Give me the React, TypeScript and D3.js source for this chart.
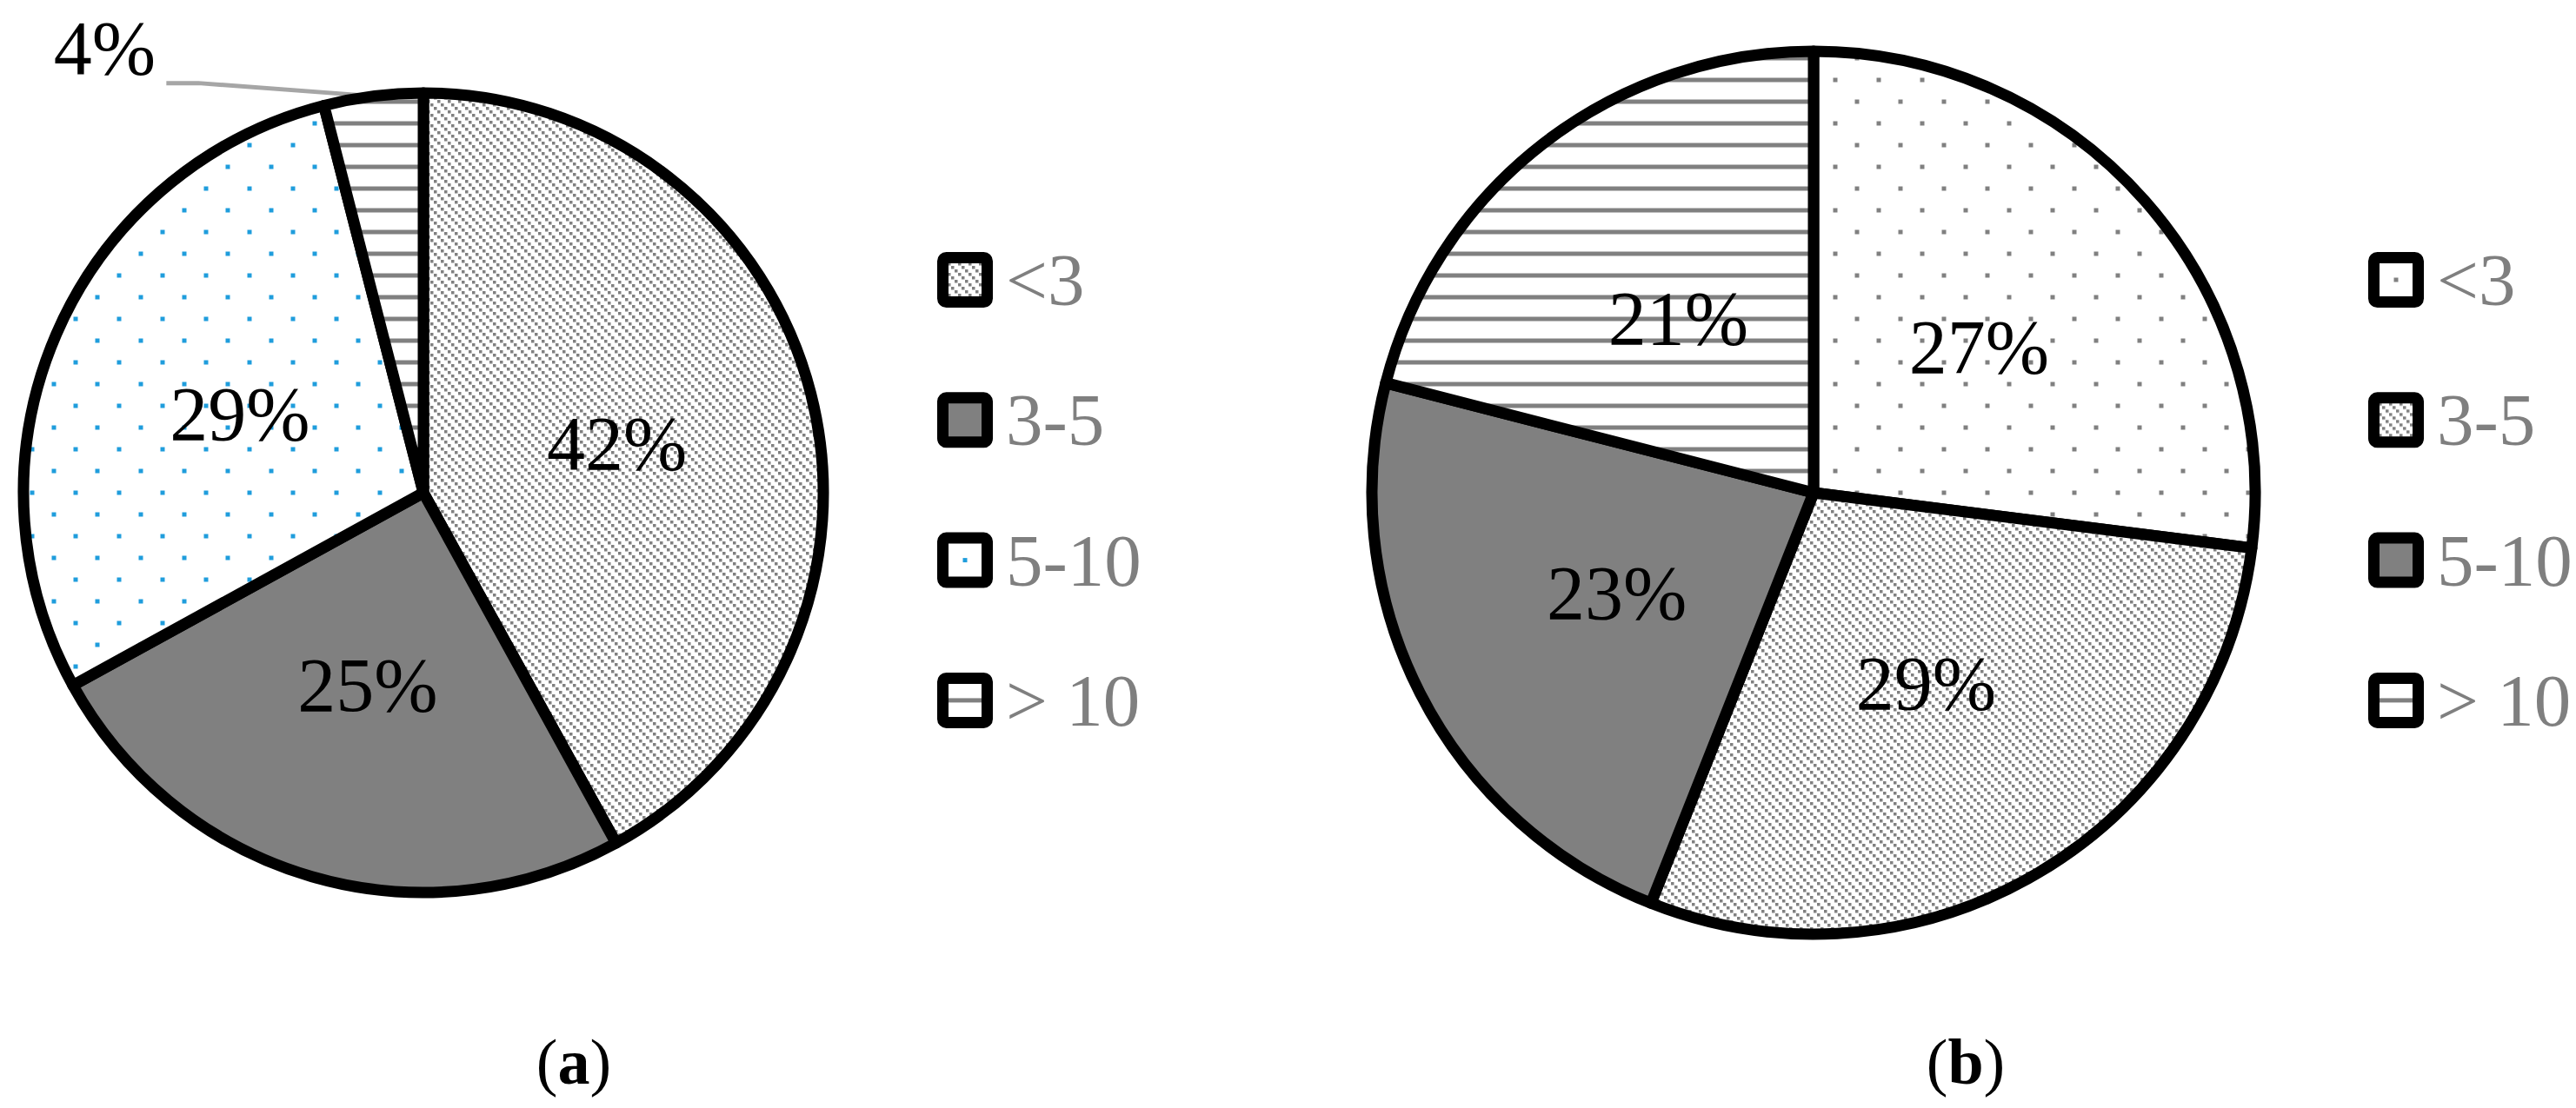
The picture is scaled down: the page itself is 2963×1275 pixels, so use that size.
import React from "react";
import * as d3 from "d3";

// data
const categories = ["<3", "3-5", "5-10", "> 10"];
const valuesA = [42, 25, 29, 4];
const valuesB = [27, 29, 23, 21];
const panelNames = ["a", "b"];

// fill style per slice (same order as categories)
const fillsA = ["diag", "solid", "dotsBlue", "hlines"];
const fillsB = ["dotsGrey", "diag", "solid", "hlines"];

const W = 2963;
const H = 1275;
const FONT = "'Palatino Linotype', 'Book Antiqua', Palatino, 'Liberation Serif', serif";
const GREY = "#808080";
const BLUE = "#1f9ddc";

const fillOf = (k: string) => (k === "solid" ? GREY : `url(#${k})`);

function Patterns() {
  return (
    <defs>
      <pattern id="diag" patternUnits="userSpaceOnUse" width={12} height={12}>
        <rect width={12} height={12} fill="#fff" />
        <rect x={0} y={0} width={3.5} height={3.5} fill={GREY} />
        <rect x={4} y={4} width={3.5} height={3.5} fill={GREY} />
        <rect x={8} y={8} width={3.5} height={3.5} fill={GREY} />
      </pattern>
      <pattern id="dotsBlue" patternUnits="userSpaceOnUse" x={-2.5} y={-2.5} width={50} height={50}>
        <rect width={50} height={50} fill="#fff" />
        <rect x={0} y={0} width={5} height={5} fill={BLUE} />
        <rect x={25} y={25} width={5} height={5} fill={BLUE} />
      </pattern>
      <pattern id="dotsGrey" patternUnits="userSpaceOnUse" x={-2.5} y={-2.5} width={50} height={50}>
        <rect width={50} height={50} fill="#fff" />
        <rect x={0} y={0} width={5} height={5} fill={GREY} />
        <rect x={25} y={25} width={5} height={5} fill={GREY} />
      </pattern>
      <pattern id="hlines" patternUnits="userSpaceOnUse" y={-2.5} width={25} height={25}>
        <rect width={25} height={25} fill="#fff" />
        <rect x={0} y={0} width={25} height={5} fill={GREY} />
      </pattern>
    </defs>
  );
}

function PieChart({ values, fills, cx, cy, r }: { values: number[]; fills: string[]; cx: number; cy: number; r: number }) {
  const pie = d3.pie<number>().sort(null).value((d) => d);
  const arcs = pie(values);
  const arc = d3.arc<d3.PieArcDatum<number>>().innerRadius(0).outerRadius(r);
  const edge = d3.arc<d3.PieArcDatum<number>>().innerRadius(r).outerRadius(r);

  return (
    <g transform={`translate(${cx},${cy})`}>
      {/* leader lines for small slices go under the pie */}
      {arcs.map((a, i) => {
        if (values[i] >= 10) return null;
        const [ex, ey] = edge.centroid(a);
        const pts: [number, number][] = [
          [ex - 238, ey - 15],
          [ex - 201, ey - 15],
          [ex, ey],
        ];
        return (
          <path key={"l" + i} d={d3.line()(pts) || ""} fill="none" stroke="#a6a6a6" strokeWidth={5} />
        );
      })}
      {arcs.map((a, i) => (
        <path
          key={i}
          d={arc(a) || ""}
          fill={fillOf(fills[i])}
          stroke="#000"
          strokeWidth={13}
          strokeLinejoin="round"
        />
      ))}
      {arcs.map((a, i) => {
        let [x, y] = arc.centroid(a);
        if (values[i] < 10) {
          const [ex, ey] = edge.centroid(a);
          x = ex - 309;
          y = ey - 56;
        }
        return (
          <text
            key={"t" + i}
            x={x}
            y={y}
            dy="0.34em"
            textAnchor="middle"
            fontFamily={FONT}
            fontSize={88}
            fill="#000"
          >
            {values[i]}%
          </text>
        );
      })}
    </g>
  );
}

function Legend({ fills, x, y }: { fills: string[]; x: number; y: number }) {
  const yScale = d3.scalePoint<string>().domain(categories).range([y, y + 3 * 161.3]);
  return (
    <g>
      {categories.map((c, i) => (
        <g key={c} transform={`translate(${x},${yScale(c)})`}>
          <rect
            x={-25.5}
            y={-25.5}
            width={51}
            height={51}
            rx={4}
            fill={fillOf(fills[i])}
            stroke="#000"
            strokeWidth={13}
          />
          <text x={47} dy="0.34em" fontFamily={FONT} fontSize={85} fill="#7f7f7f">
            {c}
          </text>
        </g>
      ))}
    </g>
  );
}

export default function App() {
  return (
    <div style={{ position: "absolute", left: 0, top: 0 }}>
      <svg width={W} height={H} style={{ display: "block", background: "#fff" }}>
        <Patterns />
        <PieChart values={valuesA} fills={fillsA} cx={487} cy={567} r={460} />
        <Legend fills={fillsA} x={1110} y={322} />
        <PieChart values={valuesB} fills={fillsB} cx={2086} cy={567} r={508} />
        <Legend fills={fillsB} x={2756} y={322} />
        {panelNames.map((n, i) => (
          <text
            key={n}
            x={i === 0 ? 660 : 2261}
            y={1247}
            textAnchor="middle"
            fontFamily={FONT}
            fontSize={74}
            fill="#000"
          >
            (<tspan fontWeight="bold">{n}</tspan>)
          </text>
        ))}
      </svg>
    </div>
  );
}
